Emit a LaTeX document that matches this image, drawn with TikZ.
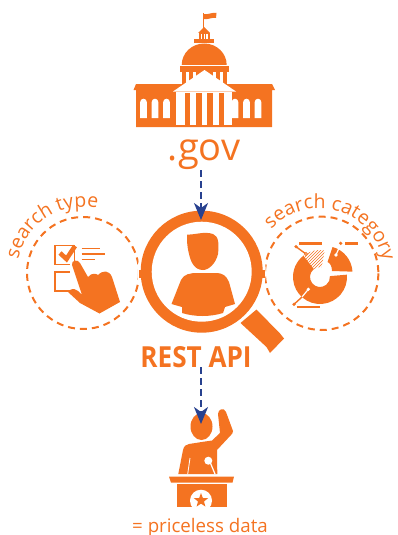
\documentclass[tikz,border=0pt]{standalone}
\usepackage{fontspec}
\setmainfont{Open Sans}
\usetikzlibrary{arrows.meta,decorations.text,patterns,shapes.geometric}
\definecolor{apiorange}{HTML}{F47321}
\definecolor{flowblue}{HTML}{28418F}
\tikzset{
    ico/.style={fill=apiorange,draw=none},
    gap/.style={fill=white,draw=none},
    thinline/.style={draw=apiorange,line width=1.4pt},
    barline/.style={draw=apiorange,line width=2.6pt},
    searchring/.style={draw=apiorange,line width=2pt,dash pattern=on 7pt off 5pt},
    flow/.style={draw=flowblue,line width=2pt,dash pattern=on 7pt off 4pt,-{Stealth[length=17pt,width=14pt,inset=5pt]}},
    curvedlabel/.style={decorate,decoration={text along path,text align=center,
        text={|\fontsize{19.5}{22}\selectfont\color{apiorange}|#1}}}
}
\begin{document}
\begin{tikzpicture}[x=1pt,y=-1pt]
    \useasboundingbox (0,0) rectangle (397,535);
    % capitol
    \draw[apiorange,line width=1.4pt] (203.7,13) -- (203.7,30);
    \fill[ico] (203.7,14) .. controls (208,15) and (212,12) .. (216.5,13) -- (216,18) .. controls (212,17) and (208,20) .. (203.7,19) -- cycle;
    \fill[ico] (198,33) -- (204,27) -- (210,33) -- cycle;
    \fill[ico] (198.5,33) rectangle (210,40);
    \fill[ico] (194,39.5) rectangle (214,43.5);
    \foreach \cx in {201.5,204.2,206.9} {\fill[gap] (\cx-.6,34.5) rectangle (\cx+.6,39.5);}
    \fill[ico] (181.7,65) arc[start angle=180,end angle=360,x radius=22.5,y radius=21.5] -- cycle;
    \fill[ico] (179.5,66) rectangle (229,72);
    \fill[ico] (182,72) rectangle (227,84);
    \foreach \cx in {187,194,214,221} {\fill[gap] (\cx-1.5,72) rectangle (\cx+1.5,84);}
    \fill[ico] (136,90) -- (133.5,90) -- (136,84) -- (272,84) -- (275,90) -- (272,90) -- (272,127) -- (136,127) -- cycle;
    \foreach \wx in {143.5,155,166.5,235,246.5,258} {
        \fill[gap] (\wx-3.3,118) -- (\wx-3.3,102) arc[start angle=180,end angle=360,radius=3.3] -- (\wx+3.3,118) -- cycle;
    }
    \fill[gap] (176,92) rectangle (232,125);
    \fill[gap] (173,91.5) -- (204.5,70) -- (236,91.5) -- cycle;
    \foreach \cx in {187.5,198.8,210,221.5} {\fill[ico] (\cx-2.7,92.5) rectangle (\cx+2.7,125);}
    \node[font=\fontsize{38}{40}\selectfont,text=apiorange,anchor=base,inner sep=0pt] (gov) at (204,160) {.gov};
    % search type
    \draw[searchring] (83,273) circle[radius=56];
    \path[curvedlabel={search type}] (83,273) ++(180:66) arc[start angle=180,end angle=294,radius=66];
    \draw[thinline] (55,245.5) rectangle (74.5,264.5);
    \draw[thinline] (55,272) rectangle (74.5,291);
    \draw[apiorange,line width=4.6pt] (60,253) -- (66.5,259) -- (75,246);
    \foreach \ly/\lx in {248.5/100,254/105,259.5/95} {\draw[thinline] (81.5,\ly) -- (\lx,\ly);}
    \fill[gap] (70,262) rectangle (80,300);
    \fill[ico] (72,265) .. controls (71,260) and (78,259) .. (80,263) -- (88,277)
        .. controls (92,272) and (97,274) .. (98,275) .. controls (103,270) and (109,270) .. (112,277)
        -- (120,302) -- (99.5,313.5) -- (80,303) -- (68,292) .. controls (72,287) and (76,288) .. (82,295) -- cycle;
    % search category
    \draw[searchring] (321.7,273.3) circle[radius=56.7];
    \path[curvedlabel={search category}] (319,273.3) ++(212:65) arc[start angle=212,end angle=360,radius=65];
    \begin{scope}[shift={(320,277)}]
        \fill[ico] (-5:10) -- (-5:27) arc[start angle=-5,end angle=232,radius=27] -- (232:10) arc[start angle=232,end angle=-5,radius=10] -- cycle;
        \path[pattern=north east lines,pattern color=apiorange] (232:10) -- (232:27) arc[start angle=232,end angle=280,radius=27] -- (280:10) arc[start angle=280,end angle=232,radius=10] -- cycle;
    \end{scope}
    \fill[ico] (327.5,262) -- (332.5,247) arc[start angle=285,end angle=357,radius=27] -- (332,271) .. controls (332,266) and (330,263) .. cycle;
    \draw[barline] (299,243.7) -- (322,243.7);
    \draw[barline] (345,243.7) -- (357.5,243.7);
    \draw[barline] (296.5,307) -- (320,307);
    \draw[thinline] (296,246.7) -- (306,254);
    \fill[ico] (296,246.7) circle[radius=1.8];
    \draw[gap,draw=apiorange,line width=1pt] (306,254) circle[radius=1.5];
    \draw[draw=white,line width=1.2pt] (341,243.5) -- (336,255);
    \fill[ico] (340.7,243.3) circle[radius=1.8];
    \fill[gap] (336,255) circle[radius=1.8];
    \draw[draw=white,line width=1.2pt] (308.3,289.3) -- (302,297);
    \draw[thinline] (302,297) -- (294,304.3);
    \fill[ico] (294,304.3) circle[radius=1.8];
    \fill[gap] (308.3,289.3) circle[radius=1.8];
    % magnifier
    \fill[gap] (201.7,271.7) circle[radius=64];
    \fill[ico] (240.5,323) -- (256.5,309.5) -- (280,333.5) -- (284,338.5) -- (270,353) -- (266.5,347) -- cycle;
    \fill[ico] (201.7,271.7) circle[radius=61];
    \fill[gap] (201.7,271.7) circle[radius=50];
    \fill[ico] (139.3,269.5) rectangle (143,277.5);
    \fill[ico] (260,269.5) rectangle (265,277.5);
    \fill[ico] (187,234.5) .. controls (195,235) and (204,231) .. (213,234) .. controls (219,236) and (219,245) .. (218,254)
        .. controls (216,263) and (209,270) .. (203,270) .. controls (195,270) and (191,263) .. (189,254) .. controls (187,247) and (187,240) .. cycle;
    \fill[ico] (171.5,304) -- (181,280) .. controls (184,274) and (190,273) .. (198,273) -- (215,273) .. controls (224,273) and (226,276) .. (229,282)
        -- (235,304) -- (225,307) -- (223,313) .. controls (210,317) and (195,317) .. (182,313) -- (182,307) -- cycle;
    \node[font=\bfseries\fontsize{29}{31}\selectfont,text=apiorange,anchor=base,inner sep=0pt,xscale=.9] (rest) at (196,367) {REST API};
    % speaker
    \fill[ico] (201.5,426.5) ellipse[x radius=11,y radius=13.5];
    \fill[ico] (178.3,474) -- (183,450) .. controls (184,446) and (186,444.5) .. (189,444) -- (205,441.5) -- (212,440.5) -- (220,433) -- (218,414) .. controls (218,409) and (224,407) .. (226,412) -- (233,431) .. controls (233,433) and (232,434) .. (231,435) -- (217,450) -- (217.3,474) -- cycle;
    \fill[gap] (208.3,460.7) circle[radius=4];
    \draw[white,line width=1.2pt] (210,462) -- (215,474);
    \draw[white,line width=.8pt] (190,458) -- (187.7,474);
    \fill[ico] (169,476.7) -- (234,476.7) -- (232.5,482.7) -- (171,482.7) -- cycle;
    \fill[ico] (176.7,484) -- (226.7,484) -- (226.7,507.3) -- (176.7,507.3) -- cycle;
    \fill[gap] (201,500.7) circle[radius=11];
    \fill[gap] (190,507.3) rectangle (212,509);
    \node[star,star points=5,star point ratio=2.4,fill=apiorange,inner sep=0pt,minimum size=15pt] (badge) at (201,500.5) {};
    \node[font=\fontsize{18.7}{20}\selectfont,text=apiorange,anchor=base,inner sep=0pt] (priceless) at (200,532) {= priceless data};
    % flow
    \coordinate (lenstop) at (201,220);
    \coordinate (speakertop) at (201,424);
    \draw[flow] (gov.south -| lenstop) ++(0,1) -- (lenstop);
    \draw[flow] (rest.south -| speakertop) -- (speakertop);
\end{tikzpicture}
\end{document}
